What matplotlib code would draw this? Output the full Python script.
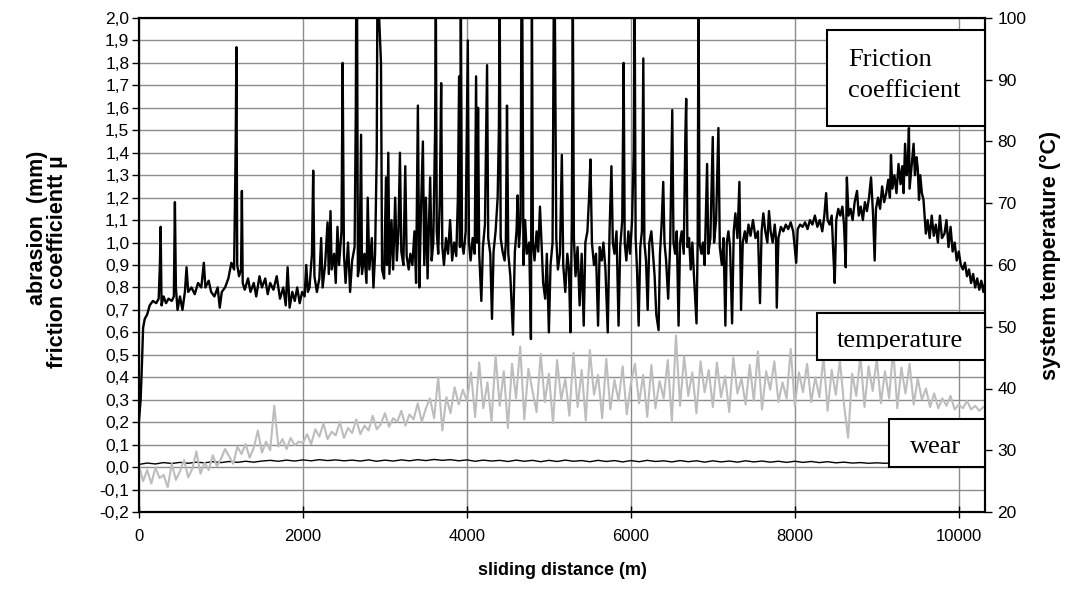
import numpy as np
import matplotlib
matplotlib.use("Agg")
from matplotlib import pyplot as plt
from matplotlib.ticker import FuncFormatter, MultipleLocator
from matplotlib.patches import Rectangle

plt.rcParams['font.family'] = ['Liberation Sans', 'DejaVu Sans']
plt.rcParams['axes.unicode_minus'] = False

### friction coefficient (left axis) ###
friction_x = [0, 20, 35, 50, 70, 100, 130, 170, 210, 240, 255, 264, 275, 300, 330, 360, 400, 425, 438, 450,
              470, 500, 530, 560, 580, 600, 640, 680, 720, 760, 791, 810, 850, 880, 920, 960, 985, 1010, 1050, 1090,
              1127, 1160, 1180, 1188, 1198, 1220, 1245, 1255, 1265, 1290, 1330, 1360, 1400, 1430, 1470, 1500, 1540, 1570, 1600, 1640,
              1680, 1720, 1760, 1790, 1813, 1837, 1870, 1900, 1930, 1960, 1990, 2020, 2040, 2060,
              2080, 2110, 2125, 2140, 2170, 2200, 2222, 2240, 2270, 2300, 2315, 2336, 2350, 2380, 2400, 2421, 2440, 2470, 2484, 2500,
              2520, 2550, 2575, 2600, 2630, 2645, 2650, 2660, 2670, 2690, 2709, 2720, 2750, 2775, 2790, 2810, 2840, 2860, 2880, 2900,
              2908, 2918, 2935, 2952, 2965, 2990, 3013, 3025, 3041, 3055, 3080, 3100, 3125, 3145, 3165, 3183, 3200, 3225, 3248, 3265,
              3290, 3310, 3335, 3360, 3380, 3402, 3420, 3440, 3463, 3480, 3500, 3520, 3535, 3552, 3570, 3590, 3612, 3621, 3632, 3650,
              3670, 3686, 3700, 3720, 3745, 3770, 3795, 3820, 3845, 3870, 3890, 3905, 3915, 3926, 3940, 3960, 3985, 4011, 4025, 4045,
              4070, 4095, 4112, 4125, 4136, 4150, 4176, 4195, 4220, 4246, 4260, 4285, 4306, 4325, 4350, 4375, 4390, 4400, 4412, 4435,
              4460, 4475, 4489, 4505, 4530, 4562, 4585, 4605, 4619, 4635, 4655, 4665, 4675, 4690, 4710, 4730, 4760, 4781, 4793, 4805,
              4825, 4850, 4870, 4891, 4910, 4930, 4955, 4975, 5000, 5020, 5045, 5060, 5072, 5090, 5110, 5135, 5158, 5175, 5200, 5225,
              5245, 5263, 5280, 5292, 5305, 5325, 5350, 5375, 5400, 5425, 5445, 5470, 5490, 5507, 5525, 5550, 5575, 5600, 5620, 5645,
              5665, 5690, 5718, 5740, 5763, 5780, 5800, 5825, 5850, 5870, 5895, 5912, 5925, 5945, 5970, 5990, 6015, 6035, 6046, 6058,
              6075, 6095, 6115, 6135, 6152, 6165, 6185, 6205, 6225, 6250, 6270, 6290, 6310, 6338, 6355, 6375, 6395, 6410, 6430, 6455,
              6480, 6505, 6520, 6540, 6560, 6582, 6600, 6620, 6645, 6665, 6675, 6690, 6710, 6730, 6750, 6770, 6801, 6815, 6825, 6838,
              6860, 6880, 6900, 6930, 6945, 6970, 6999, 7015, 7040, 7068, 7085, 7110, 7130, 7153, 7170, 7190, 7210, 7235, 7255, 7275,
              7300, 7324, 7344, 7365, 7390, 7410, 7435, 7460, 7490, 7520, 7550, 7575, 7595, 7616, 7640, 7665, 7685, 7705, 7730, 7755,
              7770, 7780, 7800, 7830, 7860, 7890, 7920, 7950, 7980, 8017, 8035, 8065, 8095, 8125, 8155, 8185, 8215, 8245, 8275, 8305,
              8335, 8360, 8382, 8400, 8425, 8450, 8470, 8487, 8505, 8530, 8555, 8580, 8600, 8621, 8635, 8655, 8680, 8705, 8730, 8759,
              8780, 8805, 8830, 8855, 8880, 8905, 8930, 8955, 8974, 8990, 9015, 9040, 9065, 9090, 9115, 9140, 9160, 9173, 9190, 9215,
              9240, 9265, 9290, 9310, 9327, 9345, 9365, 9380, 9392, 9400, 9420, 9449, 9465, 9485, 9500, 9515, 9530, 9550, 9570, 9598,
              9620, 9645, 9670, 9695, 9720, 9745, 9770, 9795, 9826, 9850, 9875, 9900, 9925, 9950, 9975, 10000, 10025, 10050, 10075, 10100,
              10125, 10150, 10175, 10200, 10225, 10250, 10275, 10300, 10320]
friction_mu = [0.21, 0.30, 0.45, 0.62, 0.66, 0.68, 0.72, 0.74, 0.73, 0.75, 0.90, 1.07, 0.72, 0.76, 0.73, 0.75, 0.74, 0.76, 1.18, 0.80,
               0.70, 0.76, 0.70, 0.78, 0.89, 0.78, 0.80, 0.77, 0.82, 0.80, 0.91, 0.80, 0.83, 0.78, 0.76, 0.80, 0.71, 0.78, 0.80, 0.84,
               0.91, 0.88, 1.45, 1.87, 0.90, 0.85, 0.88, 1.23, 0.82, 0.79, 0.84, 0.78, 0.82, 0.76, 0.85, 0.80, 0.84, 0.77, 0.82, 0.79,
               0.85, 0.75, 0.80, 0.72, 0.89, 0.71, 0.78, 0.74, 0.80, 0.73, 0.78, 0.76, 0.90, 0.78,
               0.80, 0.95, 1.32, 0.85, 0.78, 0.84, 1.02, 0.80, 0.90, 1.09, 0.86, 1.14, 0.88, 0.95, 0.82, 1.07, 0.90, 1.05, 1.80, 0.95,
               0.82, 1.00, 0.78, 0.92, 0.98, 1.60, 2.10, 2.10, 0.85, 0.90, 1.48, 0.86, 0.95, 0.82, 1.20, 0.88, 1.02, 0.80, 0.95, 1.40,
               2.10, 2.10, 1.95, 1.80, 0.88, 0.84, 1.29, 0.90, 1.40, 0.86, 1.10, 0.88, 1.20, 0.92, 1.05, 1.40, 0.96, 0.90, 1.34, 0.94,
               0.88, 0.95, 0.90, 1.05, 0.82, 1.61, 0.80, 1.15, 1.45, 0.90, 1.20, 0.84, 1.05, 1.29, 0.92, 1.00, 1.50, 2.10, 1.05, 0.95,
               1.20, 1.71, 0.98, 0.90, 1.02, 0.95, 1.10, 0.92, 1.00, 0.94, 1.20, 1.74, 0.98, 2.10, 1.00, 0.95, 1.05, 1.90, 1.00, 0.92,
               1.02, 0.95, 1.74, 1.00, 1.60, 0.95, 0.74, 0.98, 1.08, 1.79, 1.02, 0.95, 0.66, 0.96, 1.05, 1.20, 1.50, 2.10, 1.02, 0.96,
               0.92, 1.00, 1.61, 0.95, 0.85, 0.59, 0.96, 1.05, 1.21, 0.98, 1.10, 2.10, 2.10, 0.90, 1.10, 0.95, 1.00, 0.57, 2.10, 1.00,
               0.92, 1.05, 0.96, 1.16, 1.00, 0.82, 0.75, 0.95, 0.60, 0.90, 1.00, 2.10, 2.10, 1.02, 0.88, 0.95, 1.39, 0.90, 0.78, 0.95,
               0.88, 0.60, 1.10, 2.10, 1.02, 0.85, 0.98, 0.72, 0.95, 0.63, 1.00, 1.05, 1.20, 1.37, 1.00, 0.90, 0.95, 0.63, 0.98, 0.92,
               1.00, 0.88, 0.60, 1.05, 1.34, 1.00, 0.95, 1.05, 0.63, 0.98, 1.10, 1.80, 1.00, 0.92, 1.05, 0.95, 1.10, 1.40, 2.10, 1.02,
               0.88, 0.63, 0.98, 1.05, 1.82, 1.00, 0.92, 0.70, 1.00, 1.05, 0.95, 0.85, 0.68, 0.61, 0.95, 1.08, 1.27, 1.00, 0.92, 0.75,
               1.00, 1.59, 1.00, 0.95, 1.05, 0.63, 1.00, 1.05, 0.95, 1.48, 1.64, 0.98, 1.02, 0.88, 1.00, 0.85, 0.64, 1.00, 2.10, 1.00,
               0.95, 1.00, 0.90, 1.35, 0.95, 1.02, 1.47, 1.00, 1.10, 1.51, 0.98, 0.90, 1.02, 0.63, 1.00, 1.05, 0.98, 0.64, 1.05, 1.13,
               1.02, 1.27, 0.70, 1.00, 1.05, 1.00, 1.08, 1.03, 1.10, 1.02, 1.05, 0.73, 1.05, 1.13, 1.05, 1.00, 1.14, 1.05, 1.00, 1.08,
               1.02, 0.71, 1.02, 1.07, 1.05, 1.08, 1.06, 1.09, 1.05, 0.91, 1.06, 1.08, 1.07, 1.09, 1.06, 1.10, 1.08, 1.12, 1.07, 1.10,
               1.05, 1.12, 1.22, 1.10, 1.08, 1.12, 0.95, 0.82, 1.10, 1.15, 1.12, 1.16, 1.08, 0.89, 1.29, 1.12, 1.15, 1.10, 1.18, 1.23,
               1.12, 1.16, 1.10, 1.18, 1.14, 1.20, 1.29, 1.12, 0.92, 1.15, 1.20, 1.15, 1.25, 1.18, 1.22, 1.28, 1.20, 1.39, 1.24, 1.30,
               1.22, 1.35, 1.26, 1.34, 1.22, 1.44, 1.30, 1.36, 1.51, 1.24, 1.32, 1.44, 1.30, 1.38, 1.33, 1.19, 1.30, 1.22, 1.19, 1.04,
               1.10, 1.02, 1.12, 1.03, 1.08, 1.00, 1.12, 1.02, 1.04, 1.10, 0.98, 1.07, 0.96, 1.00, 0.92, 0.96, 0.90, 0.88, 0.91, 0.85,
               0.88, 0.82, 0.86, 0.80, 0.84, 0.79, 0.83, 0.78, 0.82]

### wear (left axis, mm), every 100 m ###
wear = [0.012, 0.018, 0.014, 0.020, 0.016, 0.021, 0.017, 0.022, 0.019, 0.024,
        0.020, 0.025, 0.021, 0.026, 0.022, 0.027, 0.030, 0.026, 0.031, 0.027,
        0.032, 0.028, 0.033, 0.029, 0.032, 0.028, 0.031, 0.027, 0.032, 0.026,
        0.031, 0.027, 0.032, 0.028, 0.033, 0.029, 0.034, 0.030, 0.033, 0.028,
        0.032, 0.026, 0.031, 0.027, 0.030, 0.025, 0.031, 0.026, 0.030, 0.024,
        0.030, 0.025, 0.031, 0.026, 0.029, 0.024, 0.030, 0.025, 0.029, 0.023,
        0.029, 0.024, 0.030, 0.025, 0.028, 0.023, 0.029, 0.024, 0.028, 0.022,
        0.028, 0.023, 0.027, 0.022, 0.028, 0.023, 0.027, 0.022, 0.026, 0.021,
        0.026, 0.021, 0.025, 0.020, 0.024, 0.019, 0.022, 0.018, 0.020, 0.017,
        0.019, 0.017, 0.019, 0.016, 0.018, 0.017, 0.019, 0.016, 0.018, 0.017, 0.019, 0.016, 0.018, 0.017]
wear_x = np.linspace(0, 10300, len(wear))

### system temperature (right axis, C), every 50 m ###
temp = [27.5, 25.0, 26.8, 24.6, 27.2, 25.5, 26.0, 24.0, 27.8, 25.2, 26.6, 28.4, 25.6, 27.0, 29.8, 26.2, 28.0, 26.8, 29.2, 27.4,
        28.6, 30.2, 29.0, 27.8, 30.6, 29.4, 31.0, 28.8, 30.4, 33.2, 29.6, 31.4, 30.0, 37.2, 30.6, 31.8, 30.2, 32.0, 30.8, 31.4,
        31.2, 32.6, 31.0, 33.4, 32.2, 34.4, 31.8, 33.0, 32.4, 34.6, 32.0, 33.6, 32.8, 35.0, 32.6, 34.0, 33.2, 35.6, 33.4, 34.2,
        36.0, 33.8, 35.2, 34.6, 36.4, 34.0, 35.8, 35.0, 37.6, 34.6, 36.8, 38.4, 35.2, 41.8, 33.2, 38.6, 36.0, 40.2, 37.4, 39.8,
        38.0, 42.6, 35.4, 44.2, 36.8, 41.0, 34.6, 45.4, 37.2, 42.8, 33.6, 44.0, 38.4, 46.8, 35.0, 43.2, 39.6, 36.2, 45.6, 37.8,
        42.4, 34.4, 44.6, 38.2, 41.6, 35.6, 45.8, 37.0, 43.0, 34.8, 46.2, 39.0, 42.2, 35.2, 44.8, 36.6, 41.4, 38.0, 43.6, 35.8,
        40.8, 44.0, 37.6, 42.2, 35.4, 43.8, 36.8, 41.2, 38.4, 44.6, 34.6, 48.6, 37.2, 45.2, 38.8, 42.6, 36.0, 44.4, 39.4, 43.0,
        37.0, 44.2, 38.6, 42.0, 36.2, 45.0, 39.2, 41.6, 37.4, 43.8, 38.0, 46.0, 36.6, 42.8, 39.8, 44.4, 37.8, 41.0, 38.4, 46.4,
        37.2, 42.6, 39.4, 44.0, 37.8, 41.8, 38.6, 45.2, 36.4, 43.0, 39.0, 44.6, 37.4, 32.0, 42.4, 38.8, 45.4, 37.0, 43.6, 39.6,
        44.8, 37.6, 42.8, 38.4, 46.4, 36.8, 43.4, 39.2, 44.0, 37.4, 41.6, 38.2, 40.0, 37.0, 39.2, 36.8, 38.4, 37.2, 38.8, 36.6,
        37.4, 36.8, 38.0, 36.6, 37.2, 36.4, 37.0]
temp_x = np.linspace(0, 10300, len(temp))

W, H = 1067, 593
fig = plt.figure(figsize=(W/100, H/100), dpi=100)
ax = fig.add_axes([139/W, 1 - 512/H, (985 - 139)/W, (512 - 18)/H])

ax.set_xlim(0, 10320)
ax.set_ylim(-0.2, 2.0)
ax.yaxis.set_major_locator(MultipleLocator(0.1))
ax.xaxis.set_major_locator(MultipleLocator(2000))
ax.yaxis.set_major_formatter(FuncFormatter(lambda v, p: ("%.1f" % v).replace(".", ",")))
ax.grid(True, color="#8c8c8c", linewidth=1.0)
ax.set_axisbelow(True)

ax.plot(wear_x, wear, color="black", linewidth=1.0, zorder=3)
ax.plot(friction_x, friction_mu, color="black", linewidth=1.7, zorder=4)

for s in ax.spines.values():
    s.set_linewidth(1.5)
    s.set_color("black")
ax.tick_params(axis="y", direction="out", length=5, width=1, labelsize=12.5, pad=2)
ax.tick_params(axis="x", direction="inout", length=9, width=1, labelsize=12, pad=8)

ax.set_xlabel("sliding distance (m)", fontsize=13, fontweight="bold", labelpad=13)

ax2 = ax.twinx()
ax2.set_ylim(20, 100)
ax2.yaxis.set_major_locator(MultipleLocator(10))
ax2.plot(temp_x, temp, color="#bdbdbd", linewidth=1.5, zorder=2)
ax2.tick_params(axis="y", direction="out", length=5, width=1, labelsize=12.5, pad=4)
for s in ax2.spines.values():
    s.set_linewidth(1.5)

# axis titles (rotated)
fig.text(38/W, 1 - 228/H, "abrasion  (mm)", rotation=90, ha="center", va="center",
         fontsize=15.5, fontweight="bold")
fig.text(57/W, 1 - 262/H, "friction coefficientt µ", rotation=90, ha="center", va="center",
         fontsize=15.5, fontweight="bold")
fig.text(1050/W, 1 - 255/H, "system temperature (°C)", rotation=90, ha="center", va="center",
         fontsize=15.5, fontweight="bold")

# labels in boxes (pixel positions of box corners and text baselines)
serif = ["Liberation Serif", "DejaVu Serif"]
boxes = [(827, 30, 985, 126), (817, 313, 985, 360), (889, 419, 985, 467)]
for x0, y0, x1, y1 in boxes:
    fig.add_artist(Rectangle((x0/W, 1 - y1/H), (x1 - x0)/W, (y1 - y0)/H,
                             transform=fig.transFigure, facecolor="white",
                             edgecolor="black", linewidth=1.5, zorder=10))

fig.text(848/W, 1 - 66/H, "Friction", ha="left", va="baseline", fontsize=19, family=serif, zorder=11)
fig.text(848/W, 1 - 97/H, "coefficient", ha="left", va="baseline", fontsize=19, family=serif, zorder=11)
t = fig.text(837/W, 1 - 347/H, "temperature", ha="left", va="baseline", fontsize=19, family=serif, zorder=11)
clip = Rectangle((817/W, 1 - 349/H), 168/W, 36/H, transform=fig.transFigure, visible=False)
fig.add_artist(clip)
t.set_clip_path(clip)
fig.text(910/W, 1 - 453/H, "wear", ha="left", va="baseline", fontsize=19, family=serif, zorder=11)

plt.savefig("out.png", dpi=100)
